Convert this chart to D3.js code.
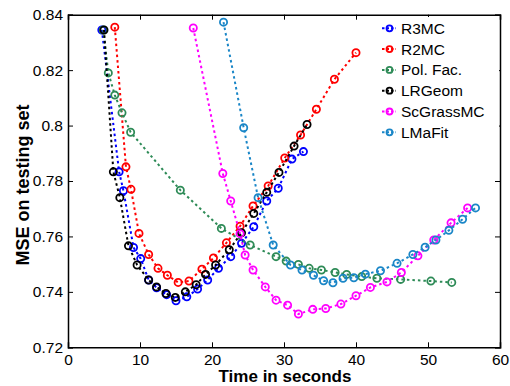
<!DOCTYPE html>
<html>
<head>
<meta charset="utf-8">
<script src="https://cdn.jsdelivr.net/npm/d3@7"></script>
<style>
  body { margin: 0; background: #fff; }
  svg { display: block; font-family: "Liberation Sans", Arial, sans-serif; }
</style>
</head>
<body>
<div id="chart"></div>
<script>
// series data: [time in seconds, MSE]
var r3mc = [[4.7, 0.8345], [7.1, 0.7833], [7.7, 0.7765], [9.1, 0.756], [10.1, 0.752], [11.2, 0.7443],
  [12.3, 0.7415], [13.7, 0.739], [15.0, 0.7368], [16.5, 0.7382], [18.0, 0.741], [19.4, 0.7443],
  [20.9, 0.7485], [22.6, 0.7527], [24.1, 0.7575], [25.8, 0.7635], [27.6, 0.7728], [29.2, 0.7774],
  [31.1, 0.7879], [32.7, 0.7906]];
var r2mc = [[6.5, 0.8355], [8.05, 0.7851], [8.75, 0.777], [9.86, 0.7611], [11.2, 0.7535], [12.5, 0.7485],
  [13.8, 0.746], [15.3, 0.7434], [16.8, 0.7439], [18.6, 0.7482], [20.2, 0.7522], [22.0, 0.7577],
  [23.9, 0.7637], [25.7, 0.771], [27.8, 0.7782], [30.1, 0.7883], [32.3, 0.7966], [34.5, 0.8059],
  [37.0, 0.8167], [40.0, 0.8263]];
var polfac = [[4.9, 0.8345], [5.6, 0.819], [6.5, 0.811], [7.5, 0.8046], [8.7, 0.7976], [15.6, 0.7767],
  [21.3, 0.7629], [25.3, 0.7569], [28.9, 0.7527], [30.3, 0.7511], [32.0, 0.7499], [33.5, 0.7485],
  [35.2, 0.7479], [37.1, 0.747], [38.7, 0.7463], [40.8, 0.7455], [42.9, 0.7449], [46.2, 0.7445],
  [50.4, 0.7439], [53.3, 0.7434]];
var lrgeom = [[5.0, 0.8345], [6.3, 0.7833], [7.2, 0.774], [8.4, 0.7566], [9.6, 0.7497], [11.2, 0.7443],
  [12.3, 0.7418], [13.6, 0.7394], [14.9, 0.738], [16.3, 0.740], [17.8, 0.7426], [19.1, 0.7463],
  [20.5, 0.7497], [22.4, 0.7552], [24.1, 0.7613], [25.8, 0.7683], [27.6, 0.7759], [29.3, 0.7831],
  [31.4, 0.7926], [33.2, 0.8004]];
var scgrass = [[17.4, 0.8352], [21.5, 0.7827], [22.6, 0.7728], [23.9, 0.761], [24.6, 0.7533], [25.7, 0.7479],
  [27.4, 0.7418], [28.9, 0.737], [30.5, 0.7352], [32.0, 0.732], [34.0, 0.7337], [35.8, 0.734],
  [37.9, 0.7356], [40.0, 0.7386], [42.0, 0.7416], [44.3, 0.7436], [46.3, 0.747], [48.6, 0.753],
  [50.8, 0.7587], [53.2, 0.7649], [55.5, 0.7703]];
var lmafit = [[21.6, 0.8373], [24.4, 0.7992], [26.4, 0.774], [28.5, 0.7569], [30.9, 0.7497], [32.5, 0.7479],
  [34.1, 0.746], [35.5, 0.744], [36.8, 0.7433], [38.2, 0.7449], [39.7, 0.7451], [41.3, 0.7464],
  [43.4, 0.7476], [45.7, 0.7503], [47.9, 0.7535], [49.6, 0.7561], [51.1, 0.7587], [52.9, 0.7622],
  [54.8, 0.7662], [56.6, 0.7703]];

var names = ["R3MC", "R2MC", "Pol. Fac.", "LRGeom", "ScGrassMC", "LMaFit"];
var colors = ["#0000ff", "#ff0000", "#2e8b57", "#000000", "#ff00ff", "#1a86c7"];
var seriesData = [r3mc, r2mc, polfac, lrgeom, scgrass, lmafit];

var xTicks = [0, 10, 20, 30, 40, 50, 60];
var yTicks = [0.72, 0.74, 0.76, 0.78, 0.8, 0.82, 0.84];

var width = 510, height = 386;
var plot = {left: 68, right: 500, top: 14.7, bottom: 347.3};

var svg = d3.select("#chart")
    .append("svg")
    .attr("width", width)
    .attr("height", height);

var x = d3.scaleLinear().domain([0, 60]).range([plot.left, plot.right]);
var y = d3.scaleLinear().domain([0.72, 0.84]).range([plot.bottom, plot.top]);

var line = d3.line()
    .x(function(d) { return x(d[0]); })
    .y(function(d) { return y(d[1]); });

// series
seriesData.forEach(function(data, i) {
    var g = svg.append("g").attr("class", "series series-" + i);
    g.append("path")
        .datum(data)
        .attr("d", line)
        .attr("fill", "none")
        .attr("stroke", colors[i])
        .attr("stroke-width", 2)
        .attr("stroke-dasharray", "2.5,3");
    g.selectAll("circle")
        .data(data)
        .enter().append("circle")
        .attr("cx", function(d) { return x(d[0]); })
        .attr("cy", function(d) { return y(d[1]); })
        .attr("r", 3.6)
        .attr("fill", "none")
        .attr("stroke", colors[i])
        .attr("stroke-width", 1.8);
});

// axes (box with inner ticks)
var axisG = svg.append("g").attr("class", "axes");

axisG.append("g")
    .attr("transform", "translate(0," + plot.bottom + ")")
    .call(d3.axisBottom(x).tickValues(xTicks).tickSize(-5).tickPadding(7).tickFormat(d3.format("d")));
axisG.append("g")
    .attr("transform", "translate(0," + plot.top + ")")
    .call(d3.axisTop(x).tickValues(xTicks).tickSize(-5).tickFormat(""));
axisG.append("g")
    .attr("transform", "translate(" + plot.left + ",0)")
    .call(d3.axisLeft(y).tickValues(yTicks).tickSize(-5).tickPadding(5).tickFormat(function(d) { return d3.format("")(+d.toFixed(2)); }));
axisG.append("g")
    .attr("transform", "translate(" + plot.right + ",0)")
    .call(d3.axisRight(y).tickValues(yTicks).tickSize(-5).tickFormat(""));

axisG.selectAll(".domain").attr("stroke", "#000").attr("stroke-width", 1.5);
axisG.selectAll(".tick line").attr("stroke", "#000").attr("stroke-width", 1);
axisG.selectAll(".tick text")
    .attr("fill", "#000")
    .attr("font-size", "15.5px")
    .attr("font-family", "Liberation Sans, Arial, sans-serif");

// legend
var legend = svg.append("g")
    .attr("class", "legend")
    .attr("transform", "translate(378,17)");

legend.append("rect")
    .attr("x", 0)
    .attr("y", 0)
    .attr("width", 121)
    .attr("height", 124)
    .attr("fill", "#fff");

names.forEach(function(name, i) {
    var ly = 11.3 + i * 20.8;
    legend.append("line")
        .attr("x1", 4).attr("x2", 18)
        .attr("y1", ly).attr("y2", ly)
        .attr("stroke", colors[i])
        .attr("stroke-width", 2)
        .attr("stroke-dasharray", "2.5,2");
    legend.append("circle")
        .attr("cx", 11.5).attr("cy", ly)
        .attr("r", 3)
        .attr("fill", "none")
        .attr("stroke", colors[i])
        .attr("stroke-width", 1.8);
    legend.append("text")
        .attr("x", 23)
        .attr("y", ly + 5.5)
        .attr("font-size", "15.5px")
        .attr("fill", "#000")
        .text(name);
});

// axis titles
svg.append("text")
    .attr("x", 285)
    .attr("y", 382)
    .attr("text-anchor", "middle")
    .attr("font-weight", "bold")
    .attr("font-size", "17px")
    .text("Time in seconds");

svg.append("text")
    .attr("transform", "translate(28.5,185) rotate(-90)")
    .attr("text-anchor", "middle")
    .attr("font-weight", "bold")
    .attr("font-size", "18px")
    .text("MSE on testing set");
</script>
</body>
</html>
